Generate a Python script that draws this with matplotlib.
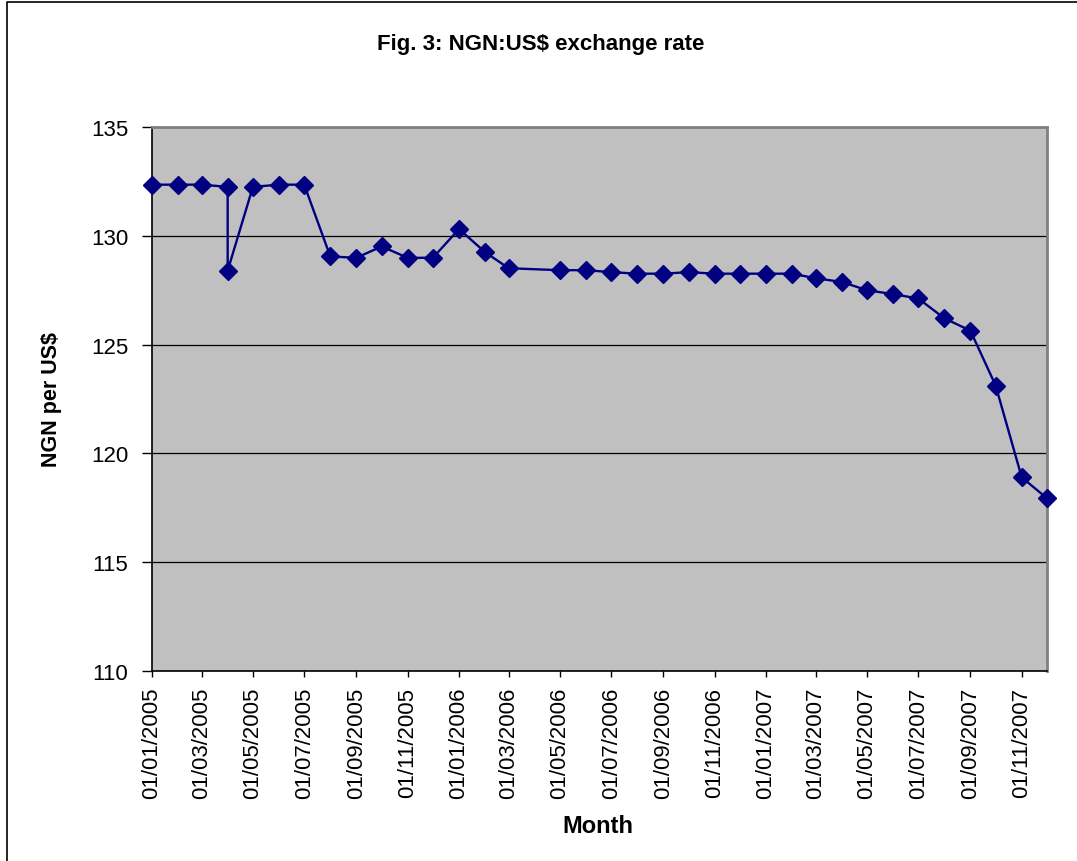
import matplotlib
matplotlib.use("Agg")
import matplotlib.pyplot as plt
import matplotlib.dates as mdates
import pandas as pd
from matplotlib.lines import Line2D

plt.rcParams["font.family"] = ["Liberation Sans", "DejaVu Sans"]

# Monthly observations (April 2005 has two readings, April 2006 none)
months = [
    "2005-01-01", "2005-02-01", "2005-03-01", "2005-04-01", "2005-04-01",
    "2005-05-01", "2005-06-01", "2005-07-01", "2005-08-01", "2005-09-01",
    "2005-10-01", "2005-11-01", "2005-12-01",
    "2006-01-01", "2006-02-01", "2006-03-01", "2006-05-01", "2006-06-01",
    "2006-07-01", "2006-08-01", "2006-09-01", "2006-10-01", "2006-11-01",
    "2006-12-01",
    "2007-01-01", "2007-02-01", "2007-03-01", "2007-04-01", "2007-05-01",
    "2007-06-01", "2007-07-01", "2007-08-01", "2007-09-01", "2007-10-01",
    "2007-11-01", "2007-12-01",
]
rates = [
    132.35, 132.35, 132.35, 132.25, 128.40,
    132.25, 132.35, 132.35, 129.05, 128.99,
    129.51, 128.99, 128.99,
    130.31, 129.25, 128.51, 128.42, 128.42,
    128.33, 128.26, 128.26, 128.33, 128.26,
    128.26,
    128.26, 128.26, 128.05, 127.88, 127.50,
    127.32, 127.12, 126.21, 125.64, 123.12,
    118.90, 117.94,
]
y_ticks = [110, 115, 120, 125, 130, 135]

dates = pd.to_datetime(months)

fig = plt.figure(figsize=(10.77, 8.62), dpi=100)
ax = fig.add_axes([0.1411, 0.2204, 0.831, 0.6311])
ax.set_facecolor("#C0C0C0")

ax.plot(dates, rates, color="#000080", linewidth=1.7,
        marker="D", markersize=9, zorder=3, clip_on=False)

ax.set_ylim(110, 135)
ax.set_yticks(y_ticks)
ax.set_xlim(pd.Timestamp("2005-01-01"), pd.Timestamp("2007-12-01"))
ax.xaxis.set_major_locator(mdates.MonthLocator(bymonth=[1, 3, 5, 7, 9, 11]))
ax.xaxis.set_major_formatter(mdates.DateFormatter("%d/%m/%Y"))

ax.grid(axis="y", color="black", linewidth=0.9)
ax.set_axisbelow(True)

ax.tick_params(axis="y", direction="out", length=7, width=1, pad=10, labelsize=16)
ax.tick_params(axis="x", direction="out", length=4.5, width=1, pad=7,
               labelsize=16, labelrotation=90)

for side in ["left", "bottom"]:
    ax.spines[side].set_color("black")
    ax.spines[side].set_linewidth(1.2)
for side in ["top", "right"]:
    ax.spines[side].set_color("#808080")
    ax.spines[side].set_linewidth(2)

ax.set_ylabel("NGN per US$", fontsize=15.5, fontweight="bold")
ax.yaxis.set_label_coords(-0.1, 0.5)
ax.set_xlabel("Month", fontsize=17, fontweight="bold")
ax.xaxis.set_label_coords(0.498, -0.262)

fig.text(0.502, 0.948, "Fig. 3: NGN:US$ exchange rate", ha="center", va="center",
         fontsize=16, fontweight="bold")

# outer chart border (left and top edges visible)
fig.add_artist(Line2D([0.0065, 0.0065, 1.0], [0.0, 0.9965, 0.9965],
                      transform=fig.transFigure, color="black", linewidth=1.2))

fig.savefig("out.png", dpi=100)
plt.close(fig)
